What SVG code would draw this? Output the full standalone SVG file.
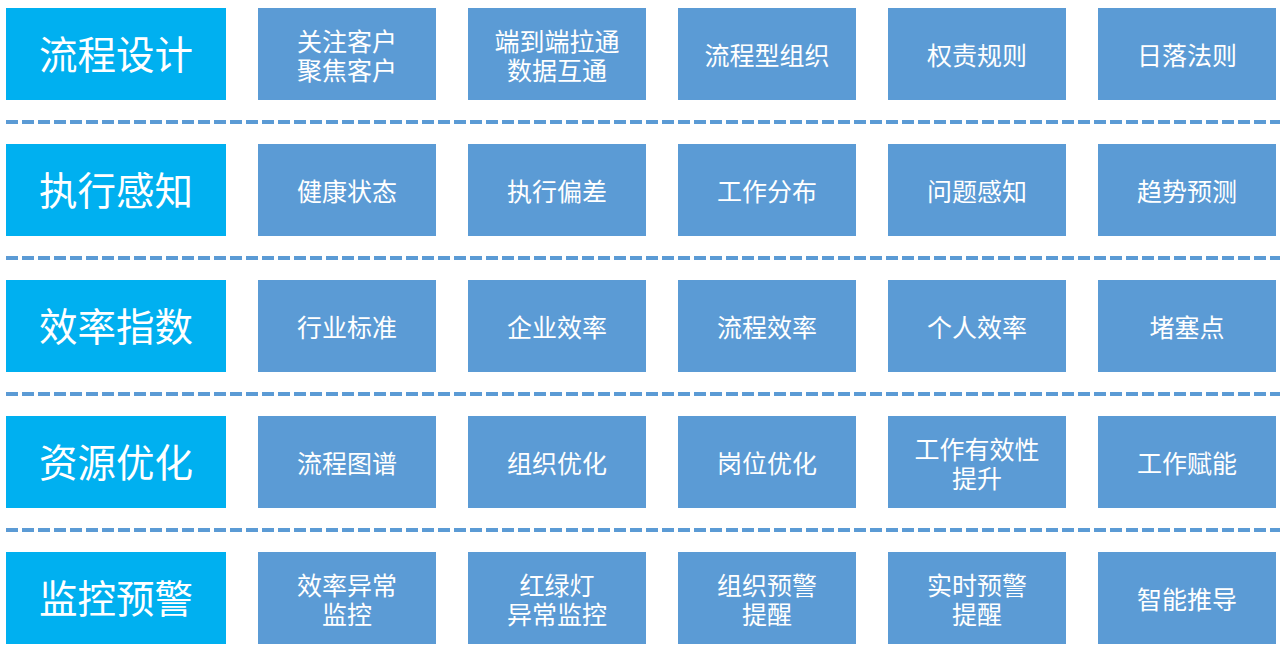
<svg xmlns="http://www.w3.org/2000/svg" width="1286" height="652" viewBox="0 0 1286 652">
<style>
.bg{fill:#ffffff}
.hd rect{fill:#00B0F0}
.bx rect{fill:#5B9BD5}
text{font-family:"Microsoft YaHei","Noto Sans CJK SC","Noto Sans",sans-serif;fill:#ffffff;text-anchor:middle}
.hd text{font-size:38.5px}
.bx text{font-size:25px}
.sep line{stroke:#5B9BD5;stroke-width:4;stroke-dasharray:12 4}
</style>
<rect class="bg" x="0" y="0" width="1286" height="652"/>
<g id="connectors" class="sep">
<line x1="6" y1="122" x2="1280" y2="122"/>
<line x1="6" y1="258" x2="1280" y2="258"/>
<line x1="6" y1="394" x2="1280" y2="394"/>
<line x1="6" y1="530" x2="1280" y2="530"/>
</g>
<g id="h1" class="hd"><rect x="6" y="8" width="220" height="92"/><text x="116" y="68.5">流程设计</text></g>
<g id="r1c1" class="bx"><rect x="258" y="8" width="178" height="92"/><text x="347" y="50.5">关注客户</text><text x="347" y="79.5">聚焦客户</text></g>
<g id="r1c2" class="bx"><rect x="468" y="8" width="178" height="92"/><text x="557" y="50.5">端到端拉通</text><text x="557" y="79.5">数据互通</text></g>
<g id="r1c3" class="bx"><rect x="678" y="8" width="178" height="92"/><text x="767" y="65">流程型组织</text></g>
<g id="r1c4" class="bx"><rect x="888" y="8" width="178" height="92"/><text x="977" y="65">权责规则</text></g>
<g id="r1c5" class="bx"><rect x="1098" y="8" width="178" height="92"/><text x="1187" y="65">日落法则</text></g>
<g id="h2" class="hd"><rect x="6" y="144" width="220" height="92"/><text x="116" y="204.5">执行感知</text></g>
<g id="r2c1" class="bx"><rect x="258" y="144" width="178" height="92"/><text x="347" y="201">健康状态</text></g>
<g id="r2c2" class="bx"><rect x="468" y="144" width="178" height="92"/><text x="557" y="201">执行偏差</text></g>
<g id="r2c3" class="bx"><rect x="678" y="144" width="178" height="92"/><text x="767" y="201">工作分布</text></g>
<g id="r2c4" class="bx"><rect x="888" y="144" width="178" height="92"/><text x="977" y="201">问题感知</text></g>
<g id="r2c5" class="bx"><rect x="1098" y="144" width="178" height="92"/><text x="1187" y="201">趋势预测</text></g>
<g id="h3" class="hd"><rect x="6" y="280" width="220" height="92"/><text x="116" y="340.5">效率指数</text></g>
<g id="r3c1" class="bx"><rect x="258" y="280" width="178" height="92"/><text x="347" y="337">行业标准</text></g>
<g id="r3c2" class="bx"><rect x="468" y="280" width="178" height="92"/><text x="557" y="337">企业效率</text></g>
<g id="r3c3" class="bx"><rect x="678" y="280" width="178" height="92"/><text x="767" y="337">流程效率</text></g>
<g id="r3c4" class="bx"><rect x="888" y="280" width="178" height="92"/><text x="977" y="337">个人效率</text></g>
<g id="r3c5" class="bx"><rect x="1098" y="280" width="178" height="92"/><text x="1187" y="337">堵塞点</text></g>
<g id="h4" class="hd"><rect x="6" y="416" width="220" height="92"/><text x="116" y="476.5">资源优化</text></g>
<g id="r4c1" class="bx"><rect x="258" y="416" width="178" height="92"/><text x="347" y="473">流程图谱</text></g>
<g id="r4c2" class="bx"><rect x="468" y="416" width="178" height="92"/><text x="557" y="473">组织优化</text></g>
<g id="r4c3" class="bx"><rect x="678" y="416" width="178" height="92"/><text x="767" y="473">岗位优化</text></g>
<g id="r4c4" class="bx"><rect x="888" y="416" width="178" height="92"/><text x="977" y="458.5">工作有效性</text><text x="977" y="487.5">提升</text></g>
<g id="r4c5" class="bx"><rect x="1098" y="416" width="178" height="92"/><text x="1187" y="473">工作赋能</text></g>
<g id="h5" class="hd"><rect x="6" y="552" width="220" height="92"/><text x="116" y="612.5">监控预警</text></g>
<g id="r5c1" class="bx"><rect x="258" y="552" width="178" height="92"/><text x="347" y="594.5">效率异常</text><text x="347" y="623.5">监控</text></g>
<g id="r5c2" class="bx"><rect x="468" y="552" width="178" height="92"/><text x="557" y="594.5">红绿灯</text><text x="557" y="623.5">异常监控</text></g>
<g id="r5c3" class="bx"><rect x="678" y="552" width="178" height="92"/><text x="767" y="594.5">组织预警</text><text x="767" y="623.5">提醒</text></g>
<g id="r5c4" class="bx"><rect x="888" y="552" width="178" height="92"/><text x="977" y="594.5">实时预警</text><text x="977" y="623.5">提醒</text></g>
<g id="r5c5" class="bx"><rect x="1098" y="552" width="178" height="92"/><text x="1187" y="609">智能推导</text></g>
</svg>
